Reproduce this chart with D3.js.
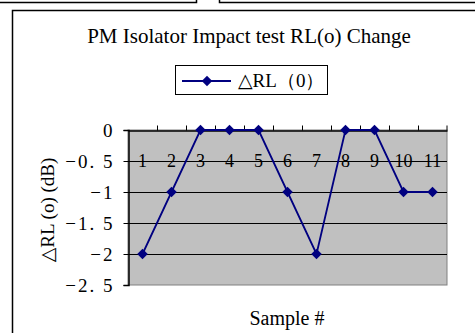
<!DOCTYPE html>
<html>
<head>
<meta charset="utf-8">
<script src="https://cdn.jsdelivr.net/npm/d3@7"></script>
<style>
  body { margin: 0; background: #fff; }
  svg { display: block; }
  text { font-family: "Liberation Serif", "DejaVu Serif", serif; fill: #000; }
</style>
</head>
<body>
<div id="chart"></div>
<script>
const samples = ["1", "2", "3", "4", "5", "6", "7", "8", "9", "10", "11"];
const deltaRL = [-2, -1, 0, 0, 0, -1, -2, 0, 0, -1, -1];
const yTicks = [0, -0.5, -1, -1.5, -2, -2.5];
const yTickLabels = ["0", "−0.\u00a05", "−1", "−1.\u00a05", "−2", "−2.\u00a05"];

const svgWidth = 475;
const svgHeight = 333;

const plot = { left: 128, right: 447, top: 130, bottom: 285 };

const svg = d3.select("#chart")
    .append("svg")
    .attr("width", svgWidth)
    .attr("height", svgHeight);

// bits of neighbouring boxes along the top edge
svg.append("path")
    .attr("d", "M0,2.5H196.5V0 M219.5,0V2.5H475")
    .attr("fill", "none")
    .attr("stroke", "#000")
    .attr("stroke-width", 1.5);

// chart frame
svg.append("rect")
    .attr("x", 12.5)
    .attr("y", 10.5)
    .attr("width", 480)
    .attr("height", 340)
    .attr("fill", "#fff")
    .attr("stroke", "#000")
    .attr("stroke-width", 1.5);

const x = d3.scaleBand()
    .domain(samples)
    .range([plot.left, plot.right])
    .padding(0);

const y = d3.scaleLinear()
    .domain([-2.5, 0])
    .range([plot.bottom, plot.top]);

// plot area
svg.append("rect")
    .attr("x", plot.left)
    .attr("y", plot.top)
    .attr("width", plot.right - plot.left)
    .attr("height", plot.bottom - plot.top)
    .attr("fill", "#c0c0c0")
    .attr("stroke", "#808080")
    .attr("stroke-width", 1);

// gridlines
svg.append("g")
    .selectAll("line")
    .data(yTicks.filter(d => d !== 0 && d !== -2.5))
    .enter()
    .append("line")
    .attr("x1", plot.left)
    .attr("x2", plot.right)
    .attr("y1", d => Math.round(y(d)) + 0.5)
    .attr("y2", d => Math.round(y(d)) + 0.5)
    .attr("stroke", "#000")
    .attr("stroke-width", 1);

// y axis
const leftAxis = d3.axisLeft(y)
    .tickValues(yTicks)
    .tickSize(5)
    .tickPadding(9)
    .tickFormat((d, i) => yTickLabels[i]);

const yAxis = svg.append("g")
    .attr("transform", `translate(${plot.left + 0.5}, 0)`)
    .call(leftAxis);

yAxis.select(".domain").attr("stroke", "#000").attr("stroke-width", 1.5);
yAxis.selectAll(".tick line").attr("stroke", "#000");
yAxis.selectAll(".tick text")
    .style("font-size", "19px")
    .style("letter-spacing", "2px")
    .style("font-family", "\"Liberation Serif\", serif")
    .attr("fill", "#000");

// x axis sits at y = 0, labels hang below it
const topAxis = d3.axisTop(x)
    .tickSize(0)
    .tickPadding(0);

const xAxis = svg.append("g")
    .attr("transform", `translate(0, ${y(0) + 0.5})`)
    .call(topAxis);

xAxis.select(".domain").attr("stroke", "#000").attr("stroke-width", 1.5);
xAxis.selectAll(".tick text")
    .attr("y", 36)
    .style("font-size", "18px")
    .style("font-family", "\"Liberation Serif\", serif")
    .attr("fill", "#000");

// category boundary tick marks going up
xAxis.selectAll(".bound")
    .data(samples.slice(1).concat(["end"]))
    .enter()
    .append("line")
    .attr("class", "bound")
    .attr("x1", d => d === "end" ? plot.right : Math.round(x(d)) + 0.5)
    .attr("x2", d => d === "end" ? plot.right : Math.round(x(d)) + 0.5)
    .attr("y1", 0)
    .attr("y2", -5)
    .attr("stroke", "#000");

// series line
const line = d3.line()
    .x((d, i) => x(samples[i]) + x.bandwidth() / 2)
    .y(d => y(d));

svg.append("path")
    .datum(deltaRL)
    .attr("d", line)
    .attr("fill", "none")
    .attr("stroke", "#000080")
    .attr("stroke-width", 1.8);

const diamond = d3.symbol().type(d3.symbolDiamond2).size(70);

svg.append("g")
    .selectAll("path")
    .data(deltaRL)
    .enter()
    .append("path")
    .attr("d", diamond)
    .attr("transform", (d, i) => `translate(${x(samples[i]) + x.bandwidth() / 2}, ${y(d)})`)
    .attr("fill", "#000080");

// title
svg.append("text")
    .attr("x", 249)
    .attr("y", 43)
    .attr("text-anchor", "middle")
    .style("font-size", "21px")
    .text("PM Isolator Impact test RL(o) Change");

// legend
const legend = svg.append("g");
legend.append("rect")
    .attr("x", 175.5)
    .attr("y", 65.5)
    .attr("width", 152)
    .attr("height", 29)
    .attr("fill", "#fff")
    .attr("stroke", "#000");
legend.append("line")
    .attr("x1", 182)
    .attr("x2", 231)
    .attr("y1", 81)
    .attr("y2", 81)
    .attr("stroke", "#000080")
    .attr("stroke-width", 1.8);
legend.append("path")
    .attr("d", diamond)
    .attr("transform", "translate(207, 81)")
    .attr("fill", "#000080");
legend.append("text")
    .attr("x", 238)
    .attr("y", 87)
    .style("font-size", "19px")
    .text("△RL（0）");

// axis titles
svg.append("text")
    .attr("transform", "translate(54, 210) rotate(-90)")
    .attr("text-anchor", "middle")
    .style("font-size", "19px")
    .text("△RL (o) (dB)");

svg.append("text")
    .attr("x", 287)
    .attr("y", 325)
    .attr("text-anchor", "middle")
    .style("font-size", "20px")
    .text("Sample #");
</script>
</body>
</html>
